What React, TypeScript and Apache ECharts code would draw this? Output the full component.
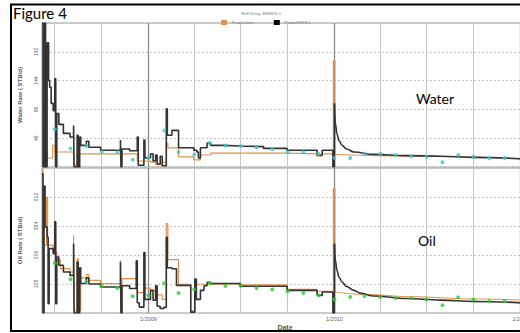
import React, { useEffect, useRef } from 'react';
import * as echarts from 'echarts';

// ---------- data ----------
const xMin = '2008-06-06';
const xMax = '2011-01-16';
const quarterLines = ['2008-07-01', '2008-10-01', '2009-04-01', '2009-07-01', '2009-10-01', '2010-04-01', '2010-07-01', '2010-10-01'];
const yearLines = ['2009-01-01', '2010-01-01', '2011-01-01'];

const waterAxis = { min: 0, max: 240, interval: 48 };
const oilAxis = { min: 0, max: 640, interval: 128 };

const obsDates = [
  '2008-07-01', '2008-08-01', '2008-09-01', '2008-10-01', '2008-11-01', '2008-12-01',
  '2009-01-01', '2009-02-01', '2009-03-01', '2009-04-01', '2009-05-01', '2009-06-01',
  '2009-07-01', '2009-08-01', '2009-09-01', '2009-10-01', '2009-11-01', '2009-12-01',
  '2010-01-01', '2010-02-01', '2010-03-01', '2010-04-01', '2010-05-01', '2010-06-01',
  '2010-07-01', '2010-08-01', '2010-09-01', '2010-10-01', '2010-11-01', '2010-12-01',
];
const waterObs = [63, 31, 35, 25, 25, 12, 15, 61, 25, 21, 40, 36, 35, 33, 30, 25, 25, 22, 15, 15, 22, 22, 20, 18, 17, 8, 20, 17, 15, 15];
const oilObs = [221, 149, 137, 119, 110, 74, 78, 131, 88, 105, 131, 119, 119, 110, 104, 96, 88, 78, 60, 71, 75, 71, 66, 65, 60, 34, 69, 60, 53, 53];

// history-match period (stepped)
const waterFNTEC: [string, number][] = [
  ['2008-06-06', 240], ['2008-06-08', 0], ['2008-06-11', 240], ['2008-06-13', 0], ['2008-06-16', 207],
  ['2008-06-19', 144], ['2008-06-21', 133], ['2008-06-24', 106], ['2008-06-28', 94], ['2008-07-01', 147],
  ['2008-07-03', 0], ['2008-07-05', 89], ['2008-07-09', 71], ['2008-07-18', 56], ['2008-07-31', 50],
  ['2008-08-07', 69], ['2008-08-08', 0], ['2008-08-14', 53], ['2008-08-16', 0], ['2008-08-19', 50],
  ['2008-08-21', 36], ['2008-09-01', 43], ['2008-09-06', 33], ['2008-09-29', 28], ['2008-11-07', 45],
  ['2008-11-08', 0], ['2008-11-10', 30], ['2008-11-25', 27], ['2008-12-10', 50], ['2008-12-12', 3],
  ['2008-12-23', 45], ['2008-12-25', 15], ['2009-01-05', 22], ['2009-01-10', 10], ['2009-01-15', 20],
  ['2009-01-18', 5], ['2009-01-24', 18], ['2009-01-28', 2], ['2009-02-05', 97], ['2009-02-07', 53],
  ['2009-02-16', 61], ['2009-03-01', 32], ['2009-03-31', 28], ['2009-04-06', 25], ['2009-04-09', 15],
  ['2009-04-13', 32], ['2009-04-26', 40], ['2009-05-03', 36], ['2009-05-29', 35], ['2009-06-30', 34],
  ['2009-08-15', 31], ['2009-09-30', 28], ['2009-11-28', 20], ['2009-12-08', 28], ['2009-12-29', 0],
  ['2010-01-01', 106],
];
// forecast decline (smooth)
const waterFNTECForecast: [string, number][] = [
  ['2010-01-01', 106], ['2010-01-03', 72], ['2010-01-06', 55], ['2010-01-10', 44], ['2010-01-16', 36],
  ['2010-01-25', 30], ['2010-02-08', 25], ['2010-03-19', 21], ['2010-05-23', 19], ['2010-07-28', 18],
  ['2010-10-01', 16], ['2011-01-16', 13],
];
const waterConv: [string, number][] = [
  ['2008-06-06', 8], ['2008-06-16', 15], ['2008-06-27', 36], ['2008-07-01', 25], ['2008-08-07', 3],
  ['2008-08-14', 22], ['2008-11-07', 19], ['2008-11-09', 5], ['2008-11-10', 22], ['2008-12-10', 10],
  ['2009-01-05', 8], ['2009-01-15', 4], ['2009-01-28', 8], ['2009-02-05', 40], ['2009-02-08', 32],
  ['2009-03-01', 17], ['2009-03-31', 12], ['2009-04-13', 20], ['2009-05-03', 23], ['2009-09-30', 22],
  ['2009-11-28', 18], ['2009-12-08', 22], ['2009-12-30', 177], ['2010-01-02', 21],
];
const waterConvForecast: [string, number][] = [
  ['2010-01-02', 21], ['2010-06-01', 18], ['2011-01-16', 14],
];
const oilFNTEC: [string, number][] = [
  ['2008-06-06', 615], ['2008-06-08', 0], ['2008-06-10', 560], ['2008-06-12', 380], ['2008-06-16', 335],
  ['2008-06-18', 41], ['2008-06-20', 284], ['2008-06-28', 262], ['2008-07-01', 402], ['2008-07-03', 41],
  ['2008-07-05', 247], ['2008-07-09', 211], ['2008-07-18', 181], ['2008-07-31', 166], ['2008-08-07', 306],
  ['2008-08-08', 0], ['2008-08-14', 225], ['2008-08-16', 0], ['2008-08-19', 200], ['2008-08-21', 130],
  ['2008-09-01', 155], ['2008-09-06', 128], ['2008-09-29', 115], ['2008-11-07', 225], ['2008-11-08', 0],
  ['2008-11-10', 120], ['2008-11-25', 108], ['2008-12-08', 230], ['2008-12-10', 45], ['2008-12-14', 26],
  ['2008-12-23', 267], ['2008-12-25', 60], ['2009-01-05', 100], ['2009-01-10', 56], ['2009-01-15', 120],
  ['2009-01-18', 30], ['2009-01-24', 20], ['2009-01-31', 25], ['2009-02-05', 334], ['2009-02-07', 200],
  ['2009-02-16', 195], ['2009-02-25', 122], ['2009-03-25', 4], ['2009-04-02', 150], ['2009-04-05', 60],
  ['2009-04-13', 100], ['2009-04-20', 120], ['2009-04-26', 135], ['2009-05-03', 130], ['2009-06-30', 118],
  ['2009-09-30', 100], ['2009-11-28', 78], ['2009-12-08', 93], ['2009-12-29', 0], ['2010-01-01', 306],
];
const oilFNTECForecast: [string, number][] = [
  ['2010-01-01', 306], ['2010-01-03', 232], ['2010-01-06', 188], ['2010-01-10', 158], ['2010-01-16', 137],
  ['2010-01-25', 117], ['2010-02-08', 100], ['2010-02-22', 87], ['2010-03-19', 75], ['2010-05-23', 64],
  ['2010-07-28', 57], ['2010-10-01', 51], ['2011-01-16', 44],
];
const oilConv: [string, number][] = [
  ['2008-06-06', 700], ['2008-06-08', 300], ['2008-06-15', 512], ['2008-06-17', 300], ['2008-06-28', 269],
  ['2008-07-05', 233], ['2008-07-12', 196], ['2008-07-31', 181], ['2008-08-07', 343], ['2008-08-08', 10],
  ['2008-08-14', 240], ['2008-08-16', 10], ['2008-08-21', 155], ['2008-09-01', 170], ['2008-09-06', 144],
  ['2008-09-29', 130], ['2008-11-07', 233], ['2008-11-08', 10], ['2008-11-10', 152], ['2008-12-10', 90],
  ['2008-12-23', 110], ['2009-01-05', 100], ['2009-01-15', 80], ['2009-01-28', 60], ['2009-02-05', 395],
  ['2009-02-08', 236], ['2009-03-01', 127], ['2009-03-25', 10], ['2009-04-02', 127], ['2009-04-26', 130],
  ['2009-06-30', 124], ['2009-09-30', 104], ['2009-11-28', 96], ['2009-12-30', 549], ['2010-01-02', 93],
];
const oilConvForecast: [string, number][] = [
  ['2010-01-02', 93], ['2010-03-01', 82], ['2010-06-01', 72], ['2010-10-01', 62], ['2011-01-16', 56],
];

// ---------- helpers ----------
const ts = (s: string) => {
  const [y, m, d] = s.split('-').map(Number);
  return new Date(y, m - 1, d).getTime();
};
const toPts = (arr: [string, number][]) => arr.map(([d, v]) => [ts(d), v]);
const obsPts = (vals: number[]) => obsDates.map((d, i) => [ts(d), vals[i]]);

const gridMarkLine = {
  silent: true,
  z: 1,
  symbol: ['none', 'none'],
  label: { show: false },
  data: [
    ...quarterLines.map((d) => ({ xAxis: ts(d), lineStyle: { color: '#c6c6c6', width: 1, type: 'solid' } })),
    ...yearLines.map((d) => ({ xAxis: ts(d), lineStyle: { color: '#8c8c8c', width: 1.3, type: 'solid' } })),
  ],
};

const FONT = 'Liberation Sans';
const ORANGE = '#e0924e';
const BLACK = '#333333';

export default function App() {
  const ref = useRef<HTMLDivElement>(null);
  useEffect(() => {
    if (!ref.current) return;
    const chart = echarts.init(ref.current, null, { renderer: 'svg' });
    const yAxisCommon = (gi: number, name: string, ax: { min: number; max: number; interval: number }) => ({
      type: 'value',
      gridIndex: gi,
      min: ax.min,
      max: ax.max,
      interval: ax.interval,
      name,
      nameLocation: 'middle',
      nameRotate: 90,
      nameGap: 19,
      nameTextStyle: { fontSize: 6, color: '#555', fontWeight: 'bold', fontFamily: FONT },
      axisLine: { show: false },
      axisTick: { show: false },
      axisLabel: {
        rotate: 90, fontSize: 5, color: '#666', margin: 4, showMinLabel: false, showMaxLabel: false, fontFamily: FONT,
      },
      splitLine: { lineStyle: { color: '#c4c4c4', type: [2, 2], width: 1 } },
    });
    const xAxisCommon = (gi: number) => ({
      type: 'time',
      gridIndex: gi,
      min: ts(xMin),
      max: ts(xMax),
      axisLine: { show: false },
      axisTick: { show: false },
      splitLine: { show: false },
    });
    const stepLine = (name: string, xi: number, data: [string, number][], color: string, width: number, z: number) => ({
      name, type: 'line', step: 'end', xAxisIndex: xi, yAxisIndex: xi, data: toPts(data),
      showSymbol: false, lineStyle: { color, width }, itemStyle: { color: color === BLACK ? '#000' : color }, z,
    });
    const smoothLine = (name: string, xi: number, data: [string, number][], color: string, width: number, z: number) => ({
      name, type: 'line', smooth: 0.4, smoothMonotone: 'x', xAxisIndex: xi, yAxisIndex: xi, data: toPts(data),
      showSymbol: false, lineStyle: { color, width }, itemStyle: { color: color === BLACK ? '#000' : color }, z,
    });
    chart.setOption({
      animation: false,
      backgroundColor: '#fff',
      title: {
        text: 'Well String: BWHXN-1',
        left: 236,
        top: 6,
        textStyle: { fontSize: 4, color: '#777', fontWeight: 'normal', fontFamily: FONT },
      },
      legend: {
        data: ['PredictConv', 'PredictFNTEC'],
        left: 216,
        top: 15,
        icon: 'rect',
        itemWidth: 6,
        itemHeight: 5,
        itemGap: 20,
        textStyle: { fontSize: 4, color: '#777', fontFamily: FONT },
      },
      grid: [
        { left: 42, top: 23, width: 486, height: 144, show: true, borderColor: '#9a9a9a', borderWidth: 1, backgroundColor: '#fff' },
        { left: 42, top: 168, width: 486, height: 145, show: true, borderColor: '#9a9a9a', borderWidth: 1, backgroundColor: '#fff' },
      ],
      xAxis: [
        { ...xAxisCommon(0), axisLabel: { show: false } },
        {
          ...xAxisCommon(1),
          name: 'Date',
          nameLocation: 'middle',
          nameGap: 11,
          nameTextStyle: { fontSize: 7, color: '#555', fontWeight: 'bold', fontFamily: FONT },
          axisLabel: {
            fontSize: 5.5,
            color: '#666',
            margin: 3,
            hideOverlap: false,
            fontFamily: FONT,
            formatter: (v: number) => {
              const d = new Date(v);
              return d.getMonth() === 0 && d.getDate() === 1 ? `1/${d.getFullYear()}` : '';
            },
          },
        },
      ],
      yAxis: [yAxisCommon(0, 'Water Rate ( STB/d)', waterAxis), yAxisCommon(1, 'Oil Rate ( STB/d)', oilAxis)],
      graphic: [
        { type: 'rect', shape: { x: 11, y: 4.5, width: 540, height: 326.5 }, style: { fill: 'none', stroke: '#000', lineWidth: 2 }, z: 100 },
        { type: 'text', x: 13, y: 5, style: { text: 'Figure 4', fontSize: 15, fontFamily: 'Lato', fill: '#000' }, z: 100 },
        { type: 'text', x: 416, y: 91, style: { text: 'Water', fontSize: 14, fontFamily: 'Lato', fill: '#000' }, z: 100 },
        { type: 'text', x: 418, y: 233, style: { text: 'Oil', fontSize: 14, fontFamily: 'Lato', fill: '#000' }, z: 100 },
      ],
      series: [
        { type: 'line', xAxisIndex: 0, yAxisIndex: 0, data: [], z: 1, markLine: gridMarkLine },
        { type: 'line', xAxisIndex: 1, yAxisIndex: 1, data: [], z: 1, markLine: gridMarkLine },
        stepLine('PredictConv', 0, waterConv, ORANGE, 1.2, 10),
        smoothLine('PredictConv', 0, waterConvForecast, ORANGE, 1, 10),
        stepLine('PredictFNTEC', 0, waterFNTEC, BLACK, 1.6, 11),
        smoothLine('PredictFNTEC', 0, waterFNTECForecast, BLACK, 1.6, 11),
        {
          name: 'Observed', type: 'scatter', xAxisIndex: 0, yAxisIndex: 0, data: obsPts(waterObs),
          symbolSize: 4, itemStyle: { color: '#3cc6c6' }, z: 12,
        },
        stepLine('PredictConv', 1, oilConv, ORANGE, 1.2, 10),
        smoothLine('PredictConv', 1, oilConvForecast, ORANGE, 1, 10),
        stepLine('PredictFNTEC', 1, oilFNTEC, BLACK, 1.6, 11),
        smoothLine('PredictFNTEC', 1, oilFNTECForecast, BLACK, 1.6, 11),
        {
          name: 'ObservedOil', type: 'scatter', xAxisIndex: 1, yAxisIndex: 1, data: obsPts(oilObs),
          symbolSize: 4, itemStyle: { color: '#2ecc2e' }, z: 12,
        },
      ],
    });
    return () => chart.dispose();
  }, []);
  return <div ref={ref} style={{ position: 'fixed', left: 0, top: 0, width: 540, height: 333 }} />;
}
